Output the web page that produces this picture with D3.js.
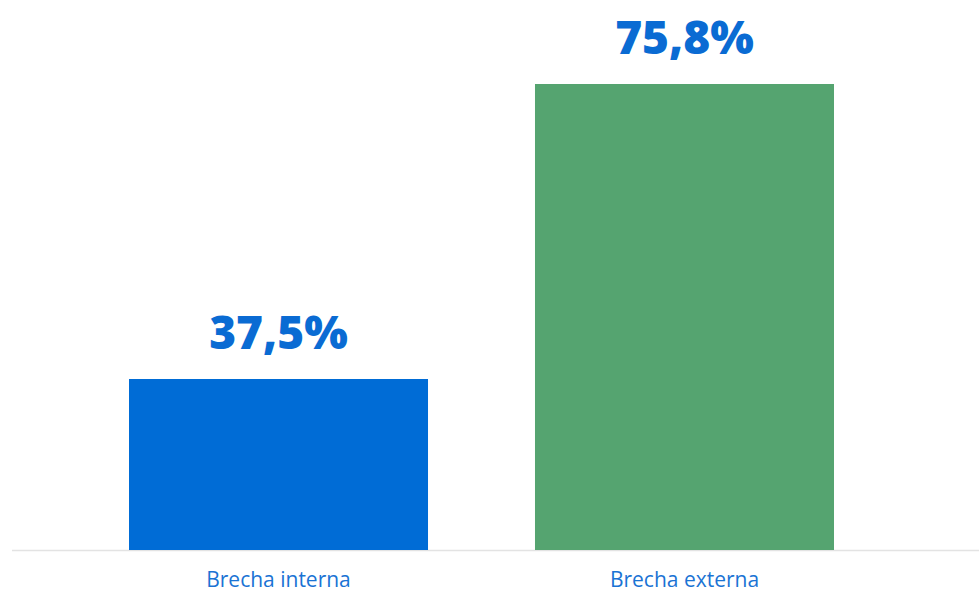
<!DOCTYPE html>
<html><head><meta charset="utf-8">
<script src="https://cdn.jsdelivr.net/npm/d3@7"></script>
<style>html,body{margin:0;padding:0;background:#fff;}svg{display:block;}</style>
</head><body>
<svg id="c" width="979" height="592"></svg>
<script>
const categories = ["Brecha interna", "Brecha externa"];
const values = [37.5, 75.8];
const labels = ["37,5%", "75,8%"];
const colors = ["#006CD6", "#55A470"];

const svg = d3.select("#c");
const x = d3.scaleBand().domain(categories).range([129, 834]).paddingInner(0.2635).paddingOuter(0);
const y = d3.scaleLinear().domain([15.3, 75.8]).range([550, 84]);

svg.append("line").attr("x1", 12).attr("x2", 979).attr("y1", 550.5).attr("y2", 550.5)
  .attr("stroke", "#e3e3e3").attr("stroke-width", 1.5);

svg.selectAll("rect.bar").data(values).join("rect").attr("class", "bar")
  .attr("x", (d, i) => x(categories[i]))
  .attr("width", x.bandwidth())
  .attr("y", d => y(d))
  .attr("height", d => 550 - y(d))
  .attr("fill", (d, i) => colors[i]);

svg.selectAll("text.val").data(values).join("text").attr("class", "val")
  .attr("x", (d, i) => x(categories[i]) + x.bandwidth() / 2)
  .attr("y", d => y(d) - 30)
  .attr("text-anchor", "middle")
  .attr("font-family", "'Open Sans', sans-serif")
  .attr("font-weight", 800)
  .attr("font-size", 46)
  .attr("fill", "#0A6BD3")
  .text((d, i) => labels[i]);

svg.selectAll("text.cat").data(categories).join("text").attr("class", "cat")
  .attr("x", d => x(d) + x.bandwidth() / 2)
  .attr("y", 587)
  .attr("text-anchor", "middle")
  .attr("font-family", "'Open Sans', sans-serif")
  .attr("font-size", 21)
  .attr("fill", "#1A73D4")
  .text(d => d);
</script>
</body></html>
